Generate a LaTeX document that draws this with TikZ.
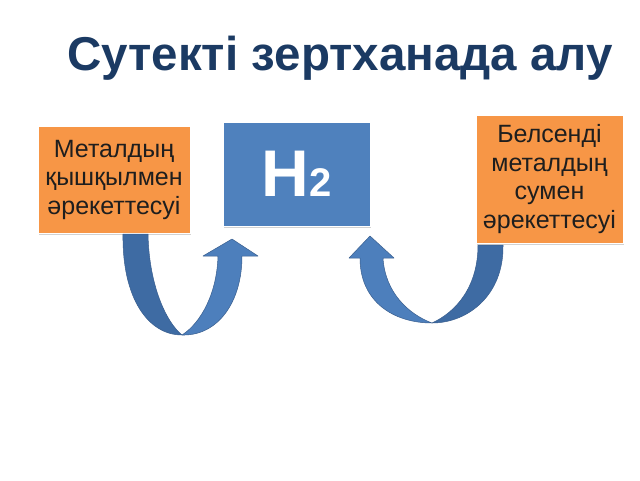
\documentclass[tikz,border=0pt]{standalone}
\usepackage{fontspec}
\setmainfont{Liberation Sans}
\usetikzlibrary{shadows}
\definecolor{titleblue}{HTML}{1B3A63}
\definecolor{boxorange}{HTML}{F79646}
\definecolor{boxblue}{HTML}{4F81BD}
\definecolor{arrdark}{HTML}{3E6BA3}
\definecolor{arrlight}{HTML}{4D7FBC}
\definecolor{arredge}{HTML}{395E8E}
\definecolor{txtdark}{HTML}{1E1E1E}
\tikzset{
  orangebox/.style={fill=boxorange, draw=white, line width=0.8pt, text=txtdark, align=center,
    font=\fontsize{25}{28.5}\selectfont, inner sep=0pt,
    drop shadow={shadow xshift=1.2pt, shadow yshift=-1.8pt, opacity=0.35, fill=gray}},
  bluebox/.style={fill=boxblue, draw=white, line width=0.8pt, text=white, inner sep=0pt,
    drop shadow={shadow xshift=1.2pt, shadow yshift=-1.8pt, opacity=0.35, fill=gray}},
  backband/.style={fill=arrdark, draw=arredge, line width=0.5pt, line join=round},
  frontband/.style={fill=arrlight, draw=arredge, line width=0.5pt, line join=round}
}
\begin{document}
\begin{tikzpicture}[x=1pt,y=-1pt]
\useasboundingbox (0,0) rectangle (640,480);
\fill[white] (0,0) rectangle (640,480);

\node[anchor=base, text=titleblue, font=\fontsize{47.5}{50}\selectfont\bfseries] (title) at (340,70.5) {Сутекті зертханада алу};

\node[orangebox, minimum width=152pt, minimum height=107pt] (left) at (114,179.5)
  {Металдың\\қышқылмен\\әрекеттесуі};
\node[bluebox, minimum width=147pt, minimum height=104pt] (h2) at (296.5,174)
  {\fontsize{66}{66}\selectfont\bfseries H\fontsize{40}{40}\selectfont 2};
\node[orangebox, minimum width=147pt, minimum height=128pt] (right) at (549.5,179)
  {Белсенді\\металдың\\сумен\\әрекеттесуі};

% left curved arrow
\coordinate (lb) at (182,335);
\path[backband] (123,234) .. controls (122,298) and (148,335) .. (lb)
   .. controls (166,322) and (149,285) .. (148,234) -- cycle;
\path[frontband] (lb) .. controls (218,336) and (242,302) .. (242,256)
   -- (258,256) -- (232,239) -- (203,256) -- (218,256)
   .. controls (217,292) and (202,322) .. (lb) -- cycle;

% right curved arrow
\coordinate (rb) at (432,323);
\path[backband] (503,245) .. controls (504,295) and (468,323) .. (rb)
   .. controls (456,312) and (478,287) .. (478,245) -- cycle;
\path[frontband] (rb) .. controls (394,323) and (360,302) .. (360,258)
   -- (349,258) -- (370,236) -- (394,258) -- (383,258)
   .. controls (385,292) and (408,314) .. (rb) -- cycle;
\end{tikzpicture}
\end{document}
